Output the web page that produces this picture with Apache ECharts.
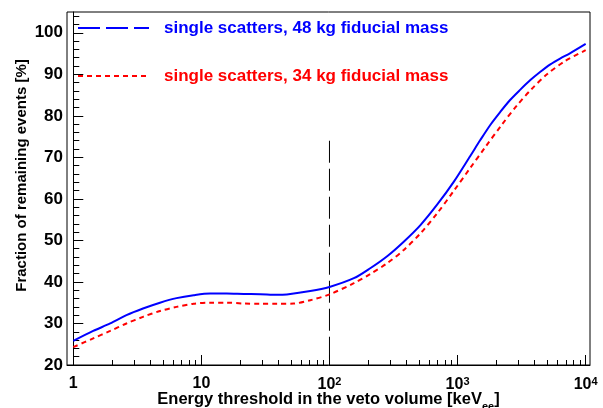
<!DOCTYPE html>
<html>
<head>
<meta charset="utf-8">
<script src="https://cdn.jsdelivr.net/npm/echarts@6/dist/echarts.min.js"></script>
<style>
html,body{margin:0;padding:0;background:#fff;}
#chart{width:603px;height:408px;}
</style>
</head>
<body>
<div id="chart"></div>
<script>
// ---- data (energy threshold in keVee, fraction in %) ----
var energy48 = [1, 1.43, 1.94, 2.6, 3.5, 4.75, 6.4, 8.7, 11.7, 15.8, 21.4, 28.8, 38.9, 46.5, 70.8, 100, 155, 208, 282, 380, 513, 692, 933, 1260, 1500, 1800, 2150, 2570, 3090, 3700, 4430, 5300, 6310, 7590, 10000];
var frac48   = [25.8, 28.2, 30.0, 32.0, 33.6, 35.0, 36.1, 36.8, 37.2, 37.2, 37.1, 37.05, 36.9, 37.0, 37.8, 38.8, 40.9, 43.3, 46.2, 49.7, 53.7, 58.6, 64.1, 70.4, 74.1, 77.8, 80.9, 83.8, 86.3, 88.6, 90.6, 92.4, 93.8, 95.1, 97.3];
var energy34 = [1, 1.43, 1.94, 2.6, 3.5, 4.75, 6.4, 8.7, 11.7, 15.8, 21.4, 28.8, 38.9, 52.5, 70.8, 100, 155, 208, 282, 380, 513, 692, 933, 1260, 1640, 2220, 2910, 3770, 4990, 6920, 10000];
var frac34   = [24.3, 26.4, 28.2, 30.0, 31.6, 33.0, 34.0, 34.75, 35.0, 35.0, 34.8, 34.75, 34.75, 34.8, 35.6, 37.0, 39.7, 41.9, 44.5, 47.7, 51.7, 56.5, 61.9, 67.5, 72.4, 77.9, 82.5, 86.4, 90.0, 93.2, 95.8];
var vetoCut = [[100, 74], [100, 20]];
var seriesNames = ['single scatters, 48 kg fiducial mass', 'single scatters, 34 kg fiducial mass'];
var xMajorTicks = [1, 10, 100, 1000, 10000];
var xTickLabels = ['1', '10', '10{sup|2}', '10{sup|3}', '10{sup|4}'];
var xMinorTicks = [2,3,4,5,6,7,8,9,20,30,40,50,60,70,80,90,200,300,400,500,600,700,800,900,2000,3000,4000,5000,6000,7000,8000,9000];
var yMajorTicks = [20, 30, 40, 50, 60, 70, 80, 90, 100];
var yMinorTicks = [22,24,26,28,32,34,36,38,42,44,46,48,52,54,56,58,62,64,66,68,72,74,76,78,82,84,86,88,92,94,96,98,102,104];
var xRange = [0.893, 10810];
var yRange = [20, 105];

var lg = function (v) { return Math.log10(v); };
var toXY = function (xs, ys) { return xs.map(function (x, i) { return [lg(x), ys[i]]; }); };

var FONT = 'Liberation Sans';
var chart = echarts.init(document.getElementById('chart'), null, {renderer: 'canvas'});
var baseX = {
  type: 'value', min: lg(xRange[0]), max: lg(xRange[1]), position: 'bottom',
  splitLine: {show: false}
};
var baseY = {
  type: 'value', min: yRange[0], max: yRange[1], position: 'left',
  splitLine: {show: false}
};
chart.setOption({
  animation: false,
  backgroundColor: '#fff',
  grid: {left: 67, right: 13, top: 12, bottom: 43, show: true, borderColor: '#000', borderWidth: 1, containLabel: false, outerBoundsMode: 'none'},
  legend: {
    orient: 'vertical', left: 72, top: 14.5, itemWidth: 71, itemHeight: 17, itemGap: 31,
    textStyle: {fontFamily: FONT, fontWeight: 'bold', fontSize: 17, padding: [0, 0, 0, 10], lineHeight: 17},
    data: [
      {name: seriesNames[0], textStyle: {color: '#0000ff'}, itemStyle: {opacity: 0}, lineStyle: {type: [22, 6], width: 2, color: '#0000ff'}},
      {name: seriesNames[1], textStyle: {color: '#ff0000'}, itemStyle: {opacity: 0}, lineStyle: {type: [5, 4], width: 2, color: '#ff0000'}}
    ]
  },
  xAxis: [
    Object.assign({}, baseX, {
      axisLine: {show: true, lineStyle: {color: '#000', width: 1}},
      axisTick: {show: true, inside: true, length: 10, customValues: xMajorTicks.map(lg), lineStyle: {color: '#000', width: 1}},
      axisLabel: {
        show: true, customValues: xMajorTicks.map(lg), margin: 11, color: '#000',
        fontFamily: FONT, fontWeight: 'bold', fontSize: 16,
        formatter: function (v) { var i = Math.round(v); return xTickLabels[i] !== undefined ? xTickLabels[i] : ''; },
        rich: {sup: {fontFamily: FONT, fontWeight: 'bold', fontSize: 11, padding: [0, 0, 7, 0], color: '#000'}}
      },
      name: '{t|Energy threshold in the veto volume [keV}{sub|ee}{t|]}',
      nameLocation: 'middle', nameGap: 22, nameMoveOverlap: false,
      nameTextStyle: {
        rich: {
          t: {fontFamily: FONT, fontWeight: 'bold', fontSize: 16.5, color: '#000'},
          sub: {fontFamily: FONT, fontWeight: 'bold', fontSize: 11, color: '#000', padding: [14, 0, 0, 0]}
        }
      }
    }),
    Object.assign({}, baseX, {
      axisLine: {show: false},
      axisTick: {show: true, inside: true, length: 5, customValues: xMinorTicks.map(lg), lineStyle: {color: '#000', width: 1}},
      axisLabel: {show: false}
    })
  ],
  yAxis: [
    Object.assign({}, baseY, {
      axisLine: {show: true, lineStyle: {color: '#000', width: 1}},
      axisTick: {show: true, inside: true, length: 10, customValues: yMajorTicks, lineStyle: {color: '#000', width: 1}},
      axisLabel: {show: true, customValues: yMajorTicks, margin: 4, color: '#000', fontFamily: FONT, fontWeight: 'bold', fontSize: 17},
      name: 'Fraction of remaining events [%]',
      nameLocation: 'middle', nameGap: 38, nameMoveOverlap: false,
      nameTextStyle: {fontFamily: FONT, fontWeight: 'bold', fontSize: 15, color: '#000', padding: [0, 0, 0, 26]}
    }),
    Object.assign({}, baseY, {
      axisLine: {show: false},
      axisTick: {show: true, inside: true, length: 6, customValues: yMinorTicks, lineStyle: {color: '#000', width: 1}},
      axisLabel: {show: false}
    })
  ],
  series: [
    {
      name: seriesNames[0], type: 'line', data: toXY(energy48, frac48), smooth: 0.3, symbol: 'none',
      lineStyle: {color: '#0000ff', width: 2}, itemStyle: {color: '#0000ff'}, z: 3
    },
    {
      name: seriesNames[1], type: 'line', data: toXY(energy34, frac34), smooth: 0.3, symbol: 'none',
      lineStyle: {color: '#ff0000', width: 2, type: [5, 4]}, itemStyle: {color: '#ff0000'}, z: 2
    },
    {
      name: 'veto', type: 'line', data: vetoCut.map(function (p) { return [lg(p[0]), p[1]]; }), symbol: 'none',
      lineStyle: {color: '#000', width: 1, type: [22, 6]}, z: 1, silent: true
    }
  ]
});
</script>
</body>
</html>
